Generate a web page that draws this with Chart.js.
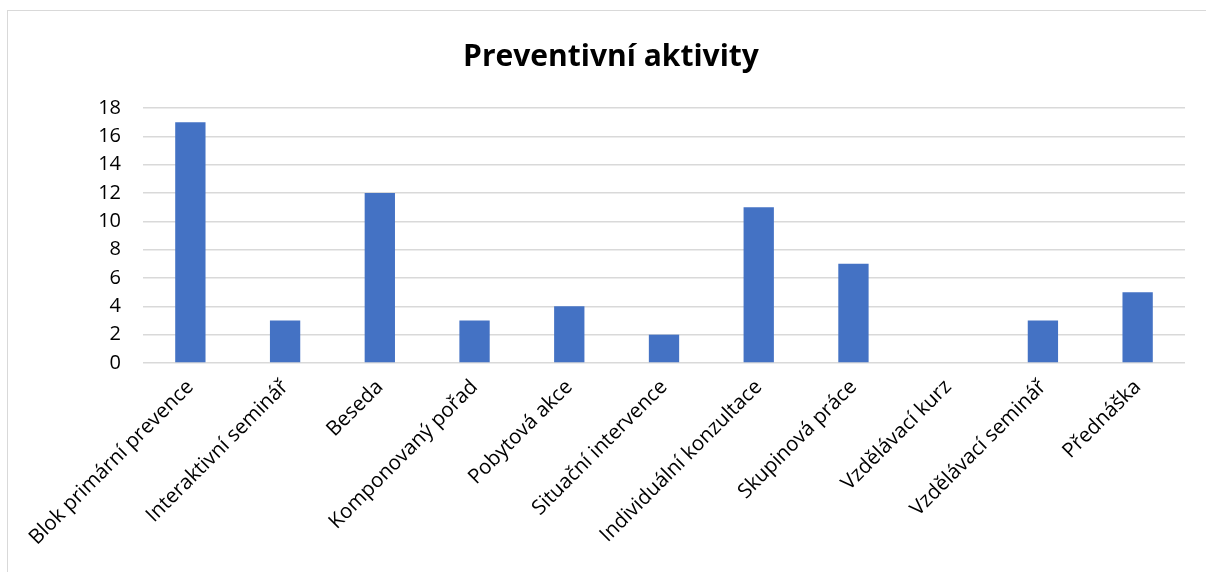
<!DOCTYPE html>
<html>
<head>
<meta charset="utf-8">
<script src="https://cdn.jsdelivr.net/npm/chart.js@4/dist/chart.umd.min.js"></script>
<style>
  html, body { margin: 0; padding: 0; background: #fff; overflow: hidden; }
  #wrap { position: relative; width: 1206px; height: 572px; }
  #ramec { position: absolute; left: 7px; top: 10px; width: 1220px; height: 600px;
           border: 1.5px solid #d9d9d9; pointer-events: none; }
</style>
</head>
<body>
<div id="wrap">
  <canvas id="graf" width="1206" height="572"></canvas>
  <div id="ramec"></div>
</div>
<script>
// data z grafu
const kategorie = [
  'Blok primární prevence', 'Interaktivní seminář', 'Beseda', 'Komponovaný pořad',
  'Pobytová akce', 'Situační intervence', 'Individuální konzultace', 'Skupinová práce',
  'Vzdělávací kurz', 'Vzdělávací seminář', 'Přednáška'
];
const pocty = [17, 3, 12, 3, 4, 2, 11, 7, 0, 3, 5];
const osaY = { min: 0, max: 18, krok: 2 };

const pismo = "'Open Sans', 'Noto Sans', sans-serif";

new Chart(document.getElementById('graf').getContext('2d'), {
    type: 'bar',
    data: {
        labels: kategorie,
        datasets: [{
            label: 'Preventivní aktivity',
            data: pocty,
            backgroundColor: '#4472C4',
            borderWidth: 0,
            categoryPercentage: 1,
            barPercentage: 0.32
        }]
    },
    options: {
        responsive: false,
        animation: false,
        layout: { padding: { left: 16, right: 0, top: 0, bottom: 0 } },
        plugins: {
            legend: { display: false },
            tooltip: { enabled: false },
            title: {
                display: true,
                text: 'Preventivní aktivity',
                color: '#000',
                font: { family: pismo, size: 30, weight: 'bold', lineHeight: 1.2 },
                padding: { top: 39, bottom: 33 }
            }
        },
        scales: {
            x: {
                grid: { display: false },
                border: { display: false },
                ticks: {
                    color: '#000',
                    font: { family: pismo, size: 20.5 },
                    maxRotation: 45,
                    minRotation: 45,
                    padding: 4,
                    autoSkip: false
                },
                afterFit: s => { s.height = 572 - 363; }
            },
            y: {
                min: osaY.min,
                max: osaY.max,
                grid: { color: '#d9d9d9', lineWidth: 1.5, drawTicks: false },
                border: { display: false },
                ticks: {
                    stepSize: osaY.krok,
                    color: '#000',
                    font: { family: pismo, size: 20 },
                    padding: 22
                },
                afterFit: s => { s.width = 127; }
            },
            // prazdna osa vpravo jen kvuli okraji
            y2: {
                position: 'right',
                grid: { display: false },
                border: { display: false },
                ticks: { display: false },
                afterFit: s => { s.width = 21; }
            }
        }
    }
});
</script>
</body>
</html>
